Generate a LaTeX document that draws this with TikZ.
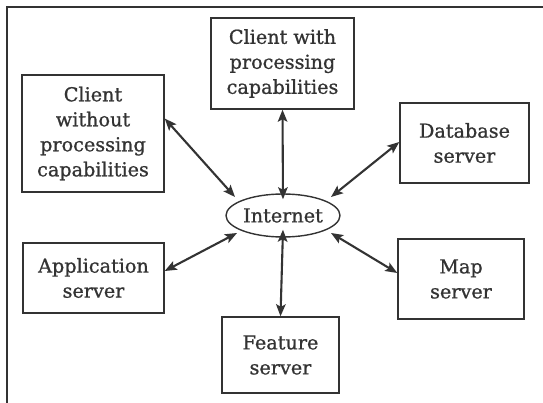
\documentclass[tikz,border=0pt]{standalone}
\usepackage{fontspec}
\newfontfamily\labelfont{DejaVu Serif}[FakeBold=0.9]
\usetikzlibrary{arrows.meta,shapes.geometric}
\definecolor{ink}{HTML}{333333}
\begin{document}
\begin{tikzpicture}[x=1pt,y=-1pt,
  box/.style={draw=ink, line width=1.4pt, align=center, inner sep=0pt,
    font=\labelfont\fontsize{19.2}{25}\selectfont, text=ink},
  link/.style={draw=ink, line width=2.1pt,
    {Stealth[length=12pt,width=9.5pt,inset=2.5pt]}-{Stealth[length=12pt,width=9.5pt,inset=2.5pt]}}]
\useasboundingbox (0,0) rectangle (543,403);
\fill[white] (0,0) rectangle (543,403);
% outer frame (left and top edges)
\draw[ink, line width=1.5pt] (7,410) -- (7,7) -- (550,7);

% central node
\node[box, ellipse, minimum width=114pt, minimum height=43pt] (net) at (283,215.5) {Internet};

% surrounding boxes
\node[box, minimum width=143pt, minimum height=91pt] (cw) at (282.5,63.5)
  {Client with\\processing\\capabilities};
\node[box, minimum width=142pt, minimum height=117pt] (cwo) at (93,133.5)
  {Client\\without\\processing\\capabilities};
\node[box, minimum width=129pt, minimum height=80pt] (db) at (464.5,143)
  {Database\\server};
\node[box, minimum width=141pt, minimum height=70pt] (app) at (93.5,278)
  {Application\\server};
\node[box, minimum width=126pt, minimum height=80pt] (map) at (461,279)
  {Map\\server};
\node[box, minimum width=117pt, minimum height=76pt] (feat) at (280.5,355)
  {Feature\\server};

% connectors
\draw[link] (cw.south) -- ([yshift=-6]net.north);
\draw[link] (feat.north) -- ([yshift=8]net.south);
\draw[link] ([yshift=15]cwo.east) -- ([shift={(-48,-18.5)}]net.center);
\draw[link] ([yshift=1]db.west) -- ([shift={(48,-18.5)}]net.center);
\draw[link] ([yshift=7]app.east) -- ([shift={(-46,17.5)}]net.center);
\draw[link] ([yshift=6]map.west) -- ([shift={(48,17.5)}]net.center);
\end{tikzpicture}
\end{document}
